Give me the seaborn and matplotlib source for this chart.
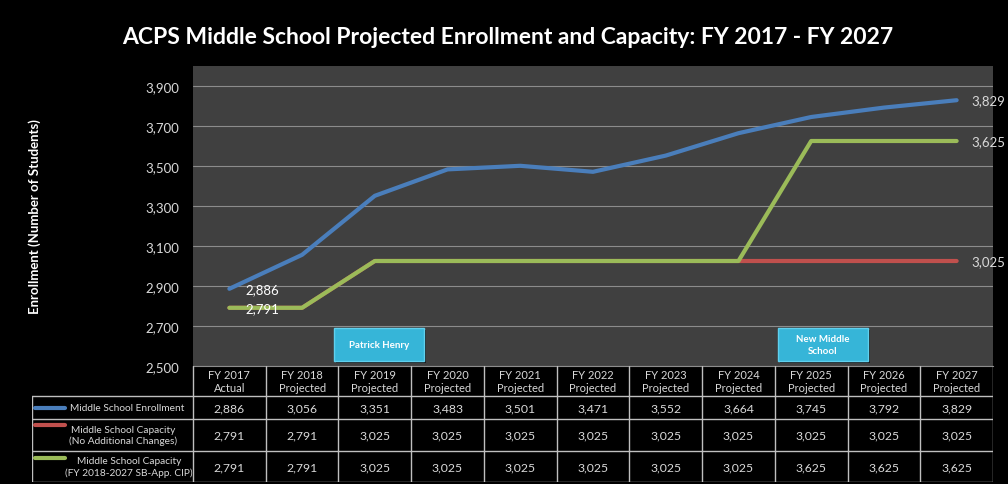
import numpy as np
import pandas as pd
import seaborn as sns
import matplotlib.pyplot as plt
from matplotlib.patches import FancyBboxPatch

# data
years = ["FY 2017", "FY 2018", "FY 2019", "FY 2020", "FY 2021", "FY 2022",
         "FY 2023", "FY 2024", "FY 2025", "FY 2026", "FY 2027"]
status = ["Actual"] + ["Projected"] * 10
enrollment = [2886, 3056, 3351, 3483, 3501, 3471, 3552, 3664, 3745, 3792, 3829]
cap_no_change = [2791, 2791, 3025, 3025, 3025, 3025, 3025, 3025, 3025, 3025, 3025]
cap_cip = [2791, 2791, 3025, 3025, 3025, 3025, 3025, 3025, 3625, 3625, 3625]

series_names = ["Middle School Enrollment",
                "Middle School Capacity\n(No Additional Changes)",
                "Middle School Capacity\n(FY 2018-2027 SB-App. CIP)"]
series_values = [enrollment, cap_no_change, cap_cip]
colors = ["#4a7ebb", "#c0504d", "#9bbb59"]

y_ticks = [2500, 2700, 2900, 3100, 3300, 3500, 3700, 3900]

rows = []
for name, vals in zip(series_names, series_values):
    for i, v in enumerate(vals):
        rows.append({"idx": i, "value": v, "series": name})
df = pd.DataFrame(rows)

sns.set_style("dark")
plt.rcParams["font.family"] = ["Lato", "DejaVu Sans"]

fig = plt.figure(figsize=(10.08, 4.85), dpi=100, facecolor="black")
ax = fig.add_axes([193 / 1008, 1 - 367 / 485, 800 / 1008, 300 / 485])
ax.set_facecolor("#404040")

sns.lineplot(data=df, x="idx", y="value", hue="series", hue_order=series_names,
             palette=colors, linewidth=3, legend=False, ax=ax, zorder=3)

ax.set_xlim(-0.5, 10.5)
ax.set_ylim(2500, 4000)
ax.set_yticks(y_ticks)
ax.set_yticklabels([f"{t:,}" for t in y_ticks], color="#d9d9d9", fontsize=9.5)
ax.set_xticks([])
ax.set_xlabel("")
ax.set_ylabel("")
ax.tick_params(axis="y", length=0, pad=10)
ax.grid(axis="y", color="#8c8c8c", linewidth=0.8)
ax.grid(axis="x", visible=False)
for side in ["top", "left", "right"]:
    ax.spines[side].set_visible(False)
ax.spines["bottom"].set_color("#8c8c8c")

# point labels
ax.text(0.22, enrollment[0], f"{enrollment[0]:,}", color="white", fontsize=9.5, va="center")
ax.text(0.22, cap_cip[0], f"{cap_cip[0]:,}", color="white", fontsize=9.5, va="center")
for vals in [enrollment, cap_no_change, cap_cip]:
    ax.text(10.2, vals[-1], f"{vals[-1]:,}", color="#d9d9d9", fontsize=9.5,
            va="center", clip_on=False)

# event boxes
for xc, label in [(2.06, "Patrick Henry"), (8.16, "New Middle\nSchool")]:
    shadow = FancyBboxPatch((xc - 0.62 + 0.03, 2525 - 8), 1.24, 165,
                            boxstyle="square,pad=0", facecolor="#1a1a1a",
                            edgecolor="none", zorder=4)
    box = FancyBboxPatch((xc - 0.62, 2525), 1.24, 165, boxstyle="square,pad=0",
                         facecolor="#36b5d8", edgecolor="#5fd0ee", linewidth=1, zorder=5)
    ax.add_patch(shadow)
    ax.add_patch(box)
    ax.text(xc, 2607, label, color="white", fontsize=7, fontweight="bold",
            ha="center", va="center", zorder=6, linespacing=1.4)

fig.text(508 / 1008, 1 - 37 / 485,
         "ACPS Middle School Projected Enrollment and Capacity: FY 2017 - FY 2027",
         color="white", fontsize=16.5, fontweight="bold", ha="center", va="center")
fig.text(35 / 1008, 1 - 217 / 485, "Enrollment (Number of Students)", color="white",
         fontsize=9.5, fontweight="bold", rotation=90, ha="center", va="center")

# data table under the chart
lw = 161 / (800 / 11)
tab = fig.add_axes([32 / 1008, 2 / 485, 961 / 1008, 116 / 485])
tab.set_xlim(-0.5 - lw, 10.5)
tab.set_ylim(116, 0)
tab.axis("off")
bounds = [0, 30, 53, 85, 116]
grid_c = "#bfbfbf"
for yb in bounds[1:]:
    tab.plot([-0.5 - lw, 10.5], [yb, yb], color=grid_c, linewidth=1)
for i in range(12):
    tab.plot([i - 0.5, i - 0.5], [0, 116], color=grid_c, linewidth=1)
tab.plot([-0.5 - lw, -0.5 - lw], [30, 116], color=grid_c, linewidth=1)

for i, (yr, st) in enumerate(zip(years, status)):
    tab.text(i, 15, f"{yr}\n{st}", color="#d9d9d9", fontsize=8, ha="center",
             va="center", linespacing=1.3)

line_y = [41.5, 58.5, 91.5]
label_x = [-1.40, -1.46, -1.38]
for r, (name, vals, c) in enumerate(zip(series_names, series_values, colors)):
    yc = (bounds[r + 1] + bounds[r + 2]) / 2
    for i, v in enumerate(vals):
        tab.text(i, yc, f"{v:,}", color="#d9d9d9", fontsize=8.8, ha="center", va="center")
    tab.plot([-0.5 - lw + 0.04, -0.5 - lw + 0.45], [line_y[r], line_y[r]], color=c,
             linewidth=3, solid_capstyle="round")
    tab.text(label_x[r], yc, name, color="#d9d9d9", fontsize=7.3, ha="center",
             va="center", linespacing=1.3)

fig.savefig("out.png", dpi=100, facecolor="black")
